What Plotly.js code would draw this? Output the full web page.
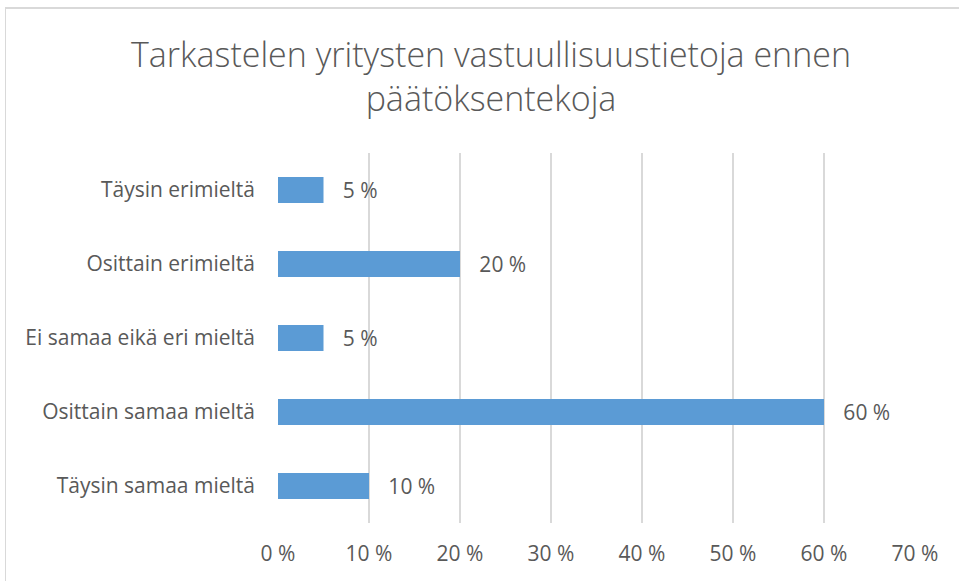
<!DOCTYPE html>
<html>
<head>
<meta charset="utf-8">
<script src="https://cdn.plot.ly/plotly-3.0.1.min.js"></script>
<style>
  body { margin: 0; background: #fff; }
  #frame { position: absolute; left: 5px; top: 7px; width: 954px; height: 574px;
           border-top: 2px solid #d9d9d9; border-left: 1px solid #d9d9d9; box-sizing: border-box; }
  #chart { position: absolute; left: 0; top: 0; }
</style>
</head>
<body>
<div id="frame"></div>
<div id="chart"></div>
<script>
// answers, top to bottom
const categories = [
    'Täysin erimieltä',
    'Osittain erimieltä',
    'Ei samaa eikä eri mieltä',
    'Osittain samaa mieltä',
    'Täysin samaa mieltä'
];
const percents = [5, 20, 5, 60, 10];

const grey = '#595959';
const font = '"Open Sans", Lato, sans-serif';

const trace = {
    type: 'bar',
    orientation: 'h',
    y: categories,
    x: percents,
    text: percents.map(p => '   ' + p + ' %'),
    textposition: 'outside',
    constraintext: 'none',
    cliponaxis: false,
    textfont: { family: font, size: 21, color: grey },
    marker: { color: '#5b9bd5' },
    hoverinfo: 'skip'
};

const layout = {
    width: 959,
    height: 581,
    margin: { l: 278, r: 44, t: 153, b: 58 },
    paper_bgcolor: 'rgba(0,0,0,0)',
    plot_bgcolor: 'rgba(0,0,0,0)',
    bargap: 0.65,
    showlegend: false,
    title: {
        text: 'Tarkastelen yritysten vastuullisuustietoja ennen<br>päätöksentekoja',
        font: { family: font, size: 34, weight: 300, color: grey },
        x: 0.512, xanchor: 'center',
        y: 1 - 67 / 581, yanchor: 'top', yref: 'container'
    },
    xaxis: {
        range: [0, 70],
        tickmode: 'linear',
        tick0: 0,
        dtick: 10,
        ticksuffix: ' %',
        showgrid: true,
        gridcolor: '#d9d9d9',
        gridwidth: 1.5,
        zeroline: false,
        showline: false,
        ticks: '',
        ticklabelstandoff: 16,
        tickfont: { family: font, size: 21, color: grey }
    },
    yaxis: {
        autorange: 'reversed',
        showgrid: false,
        zeroline: false,
        showline: false,
        ticks: '',
        ticklabelstandoff: 22,
        tickfont: { family: font, size: 21, color: grey }
    }
};

Plotly.newPlot('chart', [trace], layout, { staticPlot: true });
</script>
</body>
</html>
